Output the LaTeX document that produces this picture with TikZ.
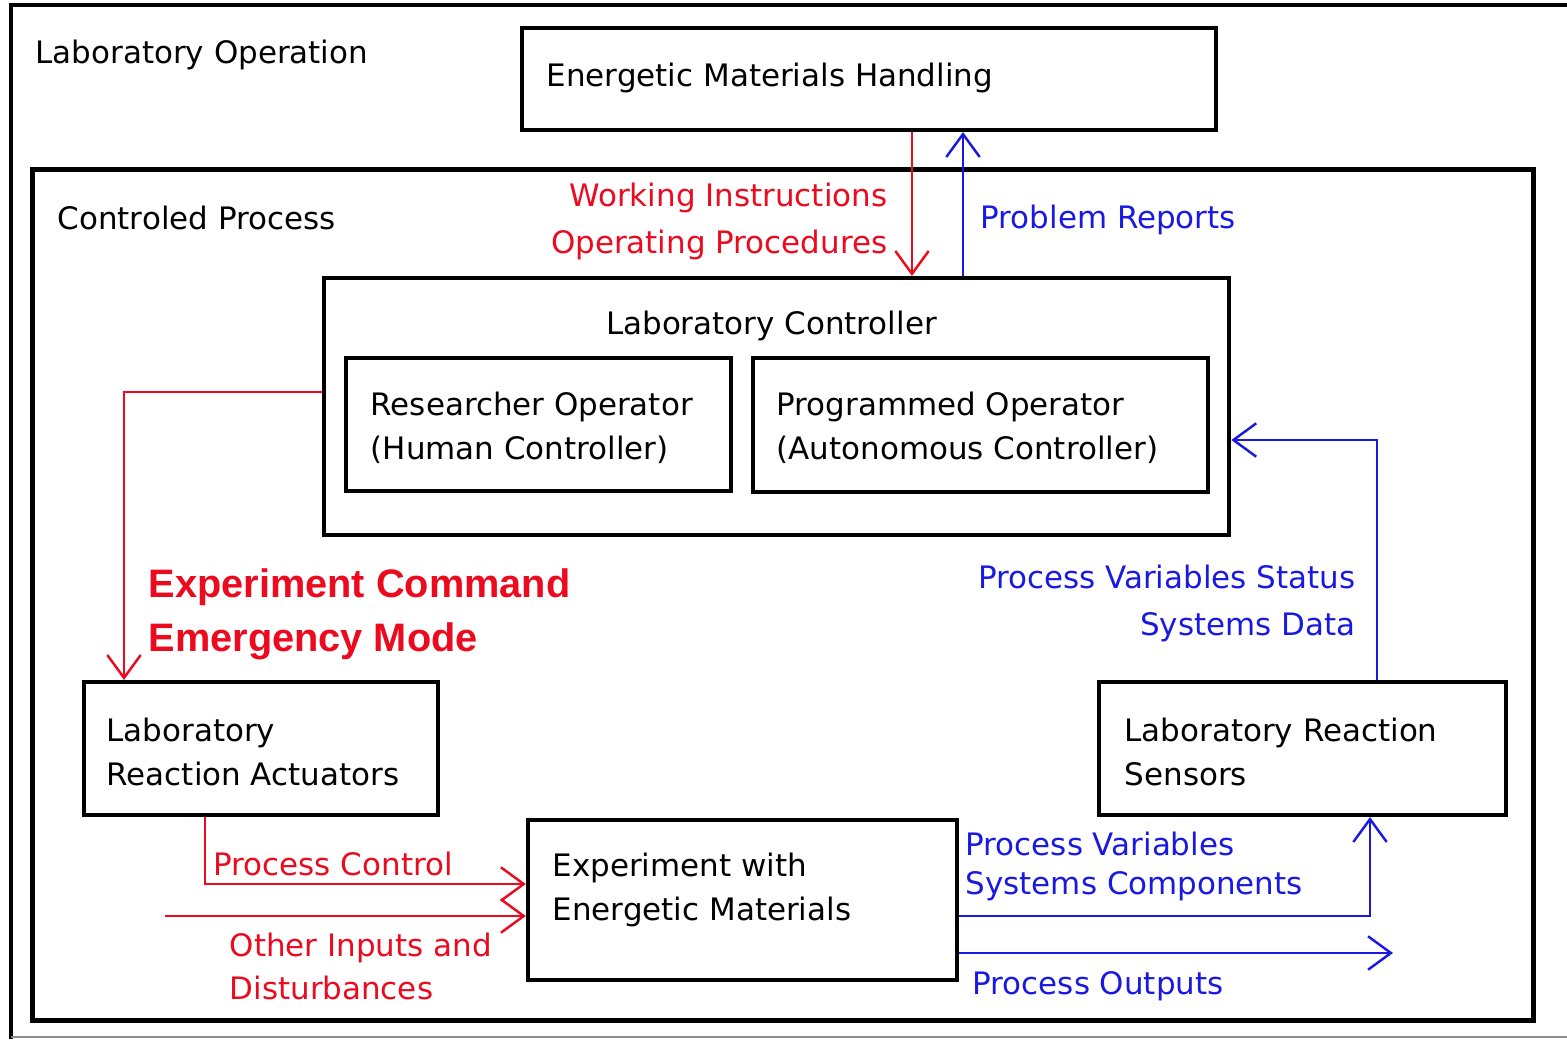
\documentclass[tikz,border=0pt]{standalone}
\usepackage{fontspec}
\setmainfont{DejaVu Sans}
\newfontfamily\cmdfont{Liberation Sans}
\usetikzlibrary{arrows.meta}
\definecolor{sigred}{RGB}{235,10,30}
\definecolor{sigblue}{RGB}{25,25,225}
\tikzset{
  frame/.style={draw=black, line width=1.4pt, fill=none},
  box/.style={draw=black, line width=1.15pt, rectangle, inner sep=0pt},
  txt/.style={inner sep=0pt, align=left, yshift=-0.025cm, font=\fontsize{8.8}{12.5}\selectfont},
  rtxt/.style={txt, text=sigred},
  btxt/.style={txt, text=sigblue},
  tip/.style={-{Straight Barb[length=6.5pt,width=9.5pt,line width=0.7pt]}},
  redflow/.style={draw=sigred, line width=0.6pt, tip},
  blueflow/.style={draw=sigblue, line width=0.6pt, tip},
}
\begin{document}
\begin{tikzpicture}[x=0.01cm, y=-0.01cm]
\useasboundingbox (0,0) rectangle (1567,1039);

% outer laboratory frame (open on the right)
\draw[line width=1.4pt] (11,1039) -- (11,5) -- (1567,5);
\draw[black!45, line width=0.4pt] (11,1037) -- (1567,1037);
\node[txt, anchor=west] (labop) at (35,52) {Laboratory Operation};

% controlled process frame
\node[box, line width=1.4pt, minimum width=15.00cm, minimum height=8.50cm] (cp) at (783,595) {};
\node[txt, anchor=west] (cpt) at (57,215) {Controled Process};

% energetic materials handling
\node[box, minimum width=6.94cm, minimum height=1.02cm] (emh) at (869,79) {};
\node[txt, anchor=west] (emht) at (546,75) {Energetic Materials Handling};

% laboratory controller and its two operators
\node[box, minimum width=9.05cm, minimum height=2.57cm] (lc) at (776.5,406.5) {};
\node[txt] (lct) at (771.5,323) {Laboratory Controller};
\node[box, minimum width=3.85cm, minimum height=1.33cm] (ro) at (538.5,424.5) {};
\node[txt, anchor=west] (rot) at (370,425) {Researcher Operator\\(Human Controller)};
\node[box, minimum width=4.55cm, minimum height=1.34cm] (po) at (980.5,425) {};
\node[txt, anchor=west] (pot) at (776,425) {Programmed Operator\\(Autonomous Controller)};

% actuators, sensors, experiment
\node[box, minimum width=3.54cm, minimum height=1.33cm] (la) at (261,748.5) {};
\node[txt, anchor=west] (lat) at (106,749.5) {Laboratory\\Reaction Actuators};
\node[box, minimum width=4.07cm, minimum height=1.33cm] (lrs) at (1302.5,748.5) {};
\node[txt, anchor=west] (lrst) at (1124,749.5) {Laboratory Reaction\\Sensors};
\node[box, minimum width=4.29cm, minimum height=1.60cm] (ex) at (742.5,900) {};
\node[txt, anchor=west] (ext) at (552,887.5) {Experiment with\\Energetic Materials};

% bend and end points of the signal lines
\coordinate (wi) at (912,0);
\coordinate (pr) at (963,0);
\coordinate (ec) at (124,392);
\coordinate (pvs) at (1377,440);
\coordinate (pc) at (205,884);
\coordinate (oi) at (165,916);
\coordinate (pv) at (1370,916);
\coordinate (out) at (1393,953);

% signal lines
\draw[redflow] (wi |- emh.south) -- (wi |- lc.north);
\draw[blueflow] (pr |- lc.north) -- (pr |- emh.south);
\draw[redflow] (lc.west |- ec) -- (ec) -- (ec |- la.north);
\draw[blueflow] (pvs |- lrs.north) -- (pvs) -- (lc.east |- pvs);
\draw[redflow] (pc |- la.south) -- (pc) -- (ex.west |- pc);
\draw[redflow] (oi) -- (ex.west |- oi);
\draw[blueflow] (ex.east |- pv) -- (pv) -- (pv |- lrs.south);
\draw[blueflow] (ex.east |- out) -- (out);

% signal labels
\node[rtxt, align=right, anchor=east, font=\fontsize{8.8}{13.6}\selectfont] (wit) at (888,219) {Working Instructions\\Operating Procedures};
\node[btxt, anchor=west] (prt) at (980,217) {Problem Reports};
\node[txt, text=sigred, anchor=west, font=\cmdfont\bfseries\fontsize{11.3}{15.3}\selectfont] (ect) at (148,612) {Experiment Command\\Emergency Mode};
\node[btxt, align=right, anchor=east, font=\fontsize{8.8}{13.6}\selectfont] (pvst) at (1356,601) {Process Variables Status\\Systems Data};
\node[rtxt, anchor=west] (pct) at (213,861) {Process Control};
\node[rtxt, anchor=west, font=\fontsize{8.8}{12.2}\selectfont] (oit) at (229,963.5) {Other Inputs and\\Disturbances};
\node[btxt, anchor=west, font=\fontsize{8.8}{11.1}\selectfont] (pvt) at (965,863.5) {Process Variables\\Systems Components};
\node[btxt, anchor=west] (outt) at (972,984) {Process Outputs};
\end{tikzpicture}
\end{document}
